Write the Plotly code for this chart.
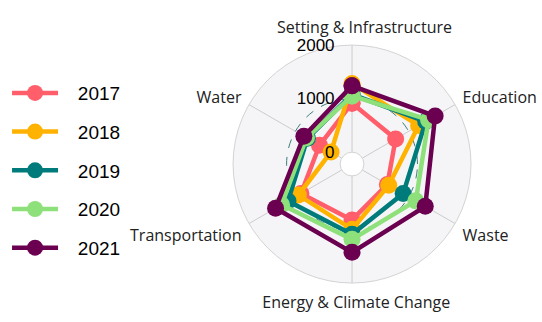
import plotly.graph_objects as go

categories = ["Setting & Infrastructure", "Education", "Waste",
              "Energy & Climate Change", "Transportation", "Water"]
years = ["2017", "2018", "2019", "2020", "2021"]
values_2017 = [915, 718, 540, 822, 880, 480]
values_2018 = [1280, 1214, 570, 997, 935, 230]
values_2019 = [1080, 1366, 880, 1090, 1159, 740]
values_2020 = [1050, 1428, 1153, 1184, 1297, 760]
values_2021 = [1240, 1570, 1357, 1427, 1427, 817]
colors = ["#FF5E6A", "#FFB300", "#007B7B", "#8EE07A", "#6B0050"]
radial_ticks = [0, 1000, 2000]

series = [values_2017, values_2018, values_2019, values_2020, values_2021]

NB = "\u00a0"
label_pad = [6, 0, 0, 2, 0, 0]
angular_text = [NB * p + c for p, c in zip(label_pad, categories)]

fig = go.Figure()
for yr, vals, col in zip(years, series, colors):
    fig.add_trace(go.Scatterpolar(
        r=vals + vals[:1],
        theta=categories + categories[:1],
        mode="lines+markers",
        name="\u2002\u00a0" + yr,
        legendgroup=yr,
        line=dict(color=col, width=4.5),
        marker=dict(color=col, size=17),
    ))

fig.update_layout(
    width=542, height=322,
    margin=dict(l=0, r=0, t=0, b=0),
    paper_bgcolor="white",
    showlegend=True,
    legend=dict(
        x=0.013, y=0.77, xanchor="left", yanchor="top",
        font=dict(family="Liberation Sans, Arial", size=19, color="black"),
        tracegroupgap=11, itemwidth=46,
        bgcolor="rgba(0,0,0,0)",
    ),
    polar=dict(
        domain=dict(x=[0.430, 0.869], y=[0.121, 0.860]),
        bgcolor="#F5F5F7",
        hole=0.1,
        radialaxis=dict(
            range=[0, 2000], tickvals=radial_ticks,
            angle=90, tickangle=90, side="counterclockwise",
            showline=False, ticks="outside", ticklen=11,
            tickcolor="rgba(0,0,0,0)",
            gridcolor="#3E7C78", griddash="dash", gridwidth=0.8,
            tickfont=dict(family="Liberation Sans, Arial", size=17, color="black"),
        ),
        angularaxis=dict(
            rotation=90, direction="clockwise",
            tickmode="array", tickvals=categories, ticktext=angular_text,
            showline=True, linecolor="#D3D3D3", linewidth=1,
            ticks="outside", ticklen=5, tickcolor="rgba(0,0,0,0)",
            gridcolor="#CCCCCC", gridwidth=1,
            tickfont=dict(family="Open Sans", size=16, color="#222"),
        ),
    ),
)

fig.write_html("out.html")
